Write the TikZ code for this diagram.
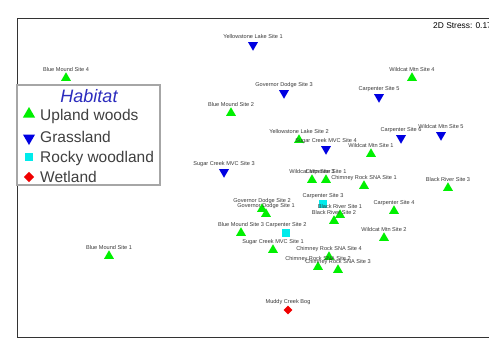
\documentclass[tikz,border=0pt]{standalone}
\usepackage{fontspec}
\setmainfont{Liberation Sans}
\usetikzlibrary{shapes.geometric}

\definecolor{uplandgreen}{RGB}{0,240,0}
\definecolor{grassblue}{RGB}{0,0,225}
\definecolor{rockycyan}{RGB}{0,235,235}
\definecolor{wetred}{RGB}{240,0,0}
\definecolor{habitatblue}{RGB}{45,45,190}

\tikzset{
  upland/.style={regular polygon, regular polygon sides=3, fill=uplandgreen, inner sep=0pt, minimum size=11.5pt},
  grass/.style={upland, fill=grassblue, shape border rotate=180},
  rocky/.style={rectangle, fill=rockycyan, inner sep=0pt, minimum size=8pt},
  wet/.style={diamond, fill=wetred, inner sep=0pt, minimum size=9pt},
  sitelab/.style={font=\fontsize{5.6}{6}\selectfont, text=black!78, inner sep=0pt},
  legtext/.style={font=\fontsize{15.5}{17}\selectfont, text=black!75, inner sep=0pt, anchor=base west}
}

\begin{document}
\begin{tikzpicture}[x=1pt, y=-1pt]
  \useasboundingbox (0,0) rectangle (489,354);
  \clip (0,0) rectangle (489,354);

  % Frame
  \draw[line width=1pt, black!80] (495,18) -- (17,18) -- (17,337) -- (495,337);

  % Sites: x/y/habitat/name/label
  \foreach \x/\y/\kind/\id/\txt in {
      253/45/grass/ys1/Yellowstone Lake Site 1,
      66/78/upland/bm4/Blue Mound Site 4,
      284/93/grass/gd3/Governor Dodge Site 3,
      412/78/upland/wm4/Wildcat Mtn Site 4,
      379/97/grass/cp5/Carpenter Site 5,
      231/113/upland/bm2/Blue Mound Site 2,
      299/140/upland/ys2/Yellowstone Lake Site 2,
      326/149/grass/sc4/Sugar Creek MVC Site 4,
      401/138/grass/cp6/Carpenter Site 6,
      441/135/grass/wm5/Wildcat Mtn Site 5,
      371/154/upland/wm1/Wildcat Mtn Site 1,
      224/172/grass/sc3/Sugar Creek MVC Site 3,
      312/180/upland/wm3/Wildcat Mtn Site 3,
      326/180/upland/cp1/Carpenter Site 1,
      364/186/upland/cr1/Chimney Rock SNA Site 1,
      448/188/upland/br3/Black River Site 3,
      323/204/rocky/cp3/Carpenter Site 3,
      340/215/upland/br1/Black River Site 1,
      334/221/upland/br2/Black River Site 2,
      394/211/upland/cp4/Carpenter Site 4,
      262/209/upland/gd2/Governor Dodge Site 2,
      266/214/upland/gd1/Governor Dodge Site 1,
      384/238/upland/wm2/Wildcat Mtn Site 2,
      241/233/upland/bm3/Blue Mound Site 3,
      286/233/rocky/cp2/Carpenter Site 2,
      273/250/upland/sc1/Sugar Creek MVC Site 1,
      329/257/upland/cr4/Chimney Rock SNA Site 4,
      318/267/upland/cr2/Chimney Rock SNA Site 2,
      338/270/upland/cr3/Chimney Rock SNA Site 3,
      288/310/wet/mcb/Muddy Creek Bog,
      109/256/upland/bm1/Blue Mound Site 1}
  {
    \node[\kind] (\id) at (\x,\y) {};
    \node[sitelab, anchor=base] (\id-lab) at ([yshift=7pt]\id.center) {\txt};
  }

  % Legend
  \draw[line width=1.2pt, black!35, fill=white] (17,85) rectangle (160,185);
  \node[font=\fontsize{18}{20}\selectfont\itshape, text=habitatblue, inner sep=0pt, anchor=base] (legtitle) at (89,102) {Habitat};
  \node[upland, minimum size=14pt] (legup) at (29,114) {};
  \node[grass, minimum size=14pt] (leggrass) at (29,138) {};
  \node[rocky, minimum size=8.5pt] (legrocky) at (29,157) {};
  \node[wet, minimum size=10.5pt] (legwet) at (29,177) {};
  \node[legtext] (legupt) at (40,120.5) {Upland woods};
  \node[legtext] (leggrasst) at (40,142) {Grassland};
  \node[legtext] (legrockyt) at (40,162.5) {Rocky woodland};
  \node[legtext] (legwett) at (40,182) {Wetland};

  % Stress
  \node[font=\fontsize{8.4}{9}\selectfont, inner sep=0pt, anchor=base west] (stress) at (433,28) {2D Stress: 0.17};
\end{tikzpicture}
\end{document}
